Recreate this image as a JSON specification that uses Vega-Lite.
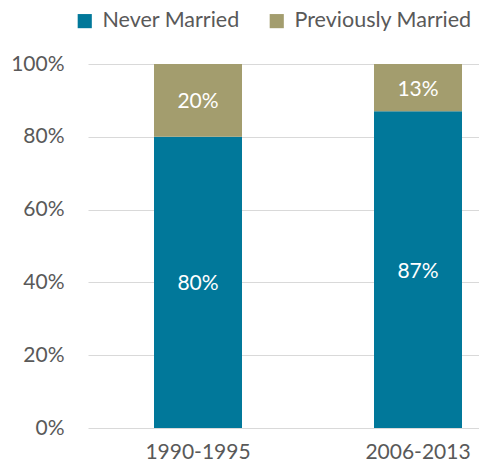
{
  "$schema": "https://vega.github.io/schema/vega-lite/v6.json",
  "width": 390,
  "height": 364,
  "autosize": {"type": "none"},
  "padding": {"left": 88, "top": 64, "right": 1, "bottom": 40},
  "background": "white",
  "config": {
    "font": "Lato",
    "view": {"stroke": null}
  },
  "data": {
    "values": [
      {"period": "1990-1995", "status": "Never Married", "share": 0.80},
      {"period": "1990-1995", "status": "Previously Married", "share": 0.20},
      {"period": "2006-2013", "status": "Never Married", "share": 0.87},
      {"period": "2006-2013", "status": "Previously Married", "share": 0.13}
    ]
  },
  "encoding": {
    "x": {
      "field": "period",
      "type": "nominal",
      "scale": {"range": [0, 440], "paddingInner": 0.6, "paddingOuter": 0.3},
      "axis": {
        "title": null,
        "labelAngle": 0,
        "labelFont": "Lato",
        "labelFontSize": 21,
        "labelColor": "#595959",
        "labelPadding": 13,
        "domain": false,
        "ticks": false
      }
    },
    "order": {"field": "status", "sort": "ascending"}
  },
  "layer": [
    {
      "mark": {"type": "bar"},
      "encoding": {
        "y": {
          "field": "share",
          "type": "quantitative",
          "stack": "zero",
          "scale": {"domain": [0, 1]},
          "axis": {
            "title": null,
            "format": ".0%",
            "values": [0, 0.2, 0.4, 0.6, 0.8, 1],
            "labelFont": "Lato",
            "labelFontSize": 21,
            "labelColor": "#595959",
            "labelPadding": 24,
            "domain": false,
            "ticks": false,
            "gridColor": "#d9d9d9",
            "gridWidth": 1
          }
        },
        "color": {
          "field": "status",
          "type": "nominal",
          "scale": {"domain": ["Never Married", "Previously Married"], "range": ["#01789A", "#A39D6E"]},
          "legend": {
            "title": null,
            "orient": "none",
            "direction": "horizontal",
            "legendX": -14,
            "legendY": -54,
            "symbolType": "square",
            "symbolSize": 200,
            "symbolStrokeWidth": 0,
            "labelFont": "Lato",
            "labelFontSize": 21.5,
            "labelColor": "#595959",
            "labelLimit": 400,
            "columnPadding": 26,
            "labelOffset": 7
          }
        }
      }
    },
    {
      "mark": {"type": "text", "color": "white", "font": "Lato", "fontSize": 21, "baseline": "middle", "dy": 2},
      "encoding": {
        "y": {"field": "share", "type": "quantitative", "stack": "zero", "bandPosition": 0.5},
        "detail": {"field": "status"},
        "text": {"field": "share", "type": "quantitative", "format": ".0%"}
      }
    }
  ]
}
